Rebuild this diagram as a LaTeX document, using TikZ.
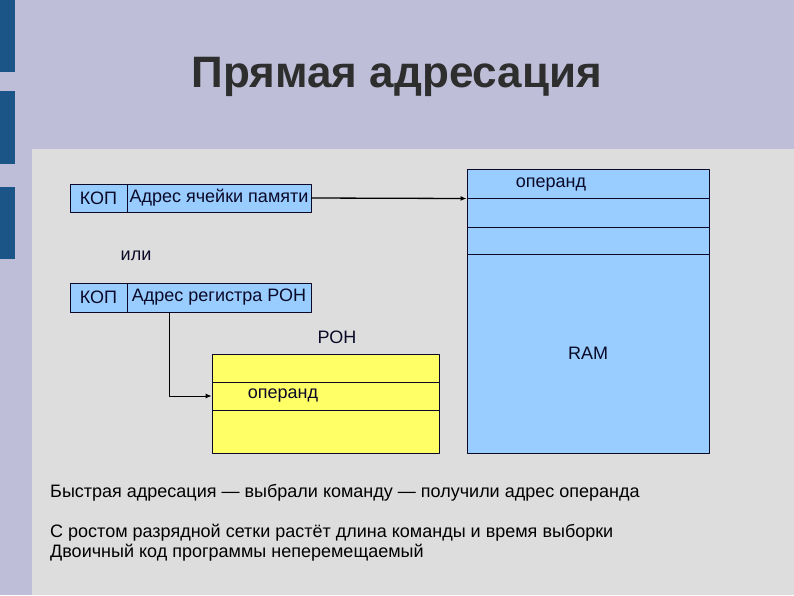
\documentclass[tikz,border=0pt]{standalone}
\usepackage{fontspec}
\setmainfont{Liberation Sans}
\usetikzlibrary{arrows.meta,positioning}
\definecolor{slidebg}{HTML}{BEBED8}
\definecolor{panelbg}{HTML}{DDDDDD}
\definecolor{barblue}{HTML}{1B5486}
\definecolor{cellblue}{HTML}{99CCFF}
\definecolor{cellyellow}{HTML}{FFFF66}
\definecolor{edgeink}{HTML}{0A0A28}
\definecolor{titleink}{HTML}{2E2E2E}
\begin{document}
\begin{tikzpicture}[x=1pt,y=-1pt,line cap=round,line join=round,
  field/.style={draw=edgeink,line width=1pt,fill=cellblue,minimum height=28pt,
    inner sep=0pt,text=edgeink,font=\fontsize{18}{18}\selectfont},
  ramcell/.style={draw=edgeink,line width=1pt,fill=cellblue,minimum width=242pt,inner sep=0pt},
  pohcell/.style={draw=edgeink,line width=0.8pt,fill=cellyellow,minimum width=227pt,inner sep=0pt},
  lbl/.style={inner sep=0pt,text=edgeink,font=\fontsize{18}{18}\selectfont},
  note/.style={inner sep=0pt,anchor=west,text=black,font=\fontsize{18}{18}\selectfont},
  link/.style={line width=1.3pt,-{Latex[length=6pt,width=5pt]}}]
  \useasboundingbox (0,0) rectangle (794,595);
  % slide background
  \fill[slidebg] (0,0) rectangle (794,595);
  \fill[panelbg] (32,149) rectangle (794,595);
  \foreach \a/\b in {0/72,91/164,187/259} {
    \fill[barblue] (0,\a) rectangle (15,\b);
  }
  \node[inner sep=0pt,text=titleink,font=\fontsize{44}{44}\selectfont\bfseries] (title) at (397,77) {Прямая адресация};
  % command formats
  \node[field,minimum width=57pt] (kop1) at (98.5,198) {КОП};
  \node[field,minimum width=184pt] (addr1) at (219,198) {Адрес ячейки памяти};
  \node[lbl] (ili) at (136,256) {или};
  \node[field,minimum width=57pt,minimum height=29pt] (kop2) at (98.5,297.5) {КОП};
  \node[field,minimum width=184pt,minimum height=29pt] (addr2) at (219,297.5) {Адрес регистра РОН};
  % memory
  \node[ramcell,minimum height=29pt] (ramc1) at (588,183.5) {};
  \node[ramcell,minimum height=29pt] (ramc2) at (588,212.5) {};
  \node[ramcell,minimum height=27pt] (ramc3) at (588,240.5) {};
  \node[ramcell,minimum height=199pt,lbl] (ramrest) at (588,353.5) {RAM};
  \node[lbl] (ramop) at (551,185) {операнд};
  % registers
  \node[lbl] (pohname) at (337,337) {РОН};
  \node[pohcell,minimum height=28pt] (poh1) at (325.5,368) {};
  \node[pohcell,minimum height=28pt] (poh2) at (325.5,396) {};
  \node[pohcell,minimum height=43pt] (poh3) at (325.5,431.5) {};
  \node[lbl] (pohop) at (283,396) {операнд};
  \draw[link] (addr1.east) -- (ramc1.south west);
  \draw[link,line width=1pt] ([xshift=43pt]addr2.south west) |- (poh2.west);
  % notes
  \node[note] (n1) at (50,493) {Быстрая адресация — выбрали команду — получили адрес операнда};
  \node[note] (n2) at (50,533) {С ростом разрядной сетки растёт длина команды и время выборки};
  \node[note] (n3) at (50,553) {Двоичный код программы неперемещаемый};
\end{tikzpicture}
\end{document}
